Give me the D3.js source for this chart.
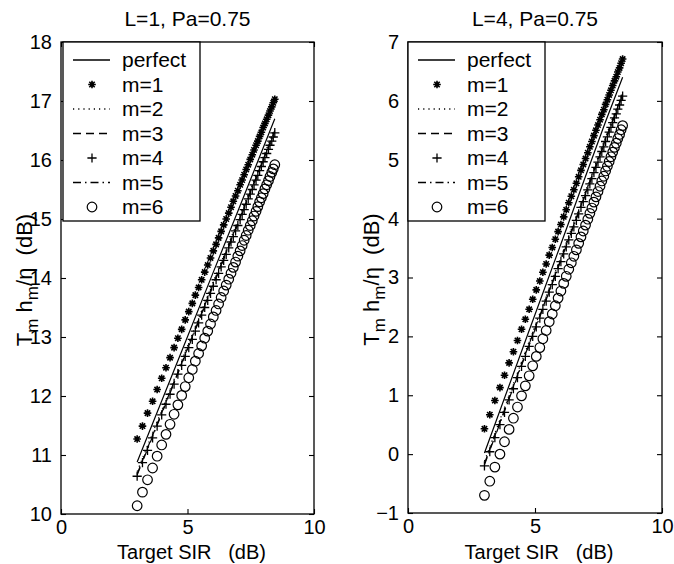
<!DOCTYPE html>
<html>
<head>
<meta charset="utf-8">
<script src="https://cdn.jsdelivr.net/npm/d3@7/dist/d3.min.js"></script>
<style>
  body { margin: 0; background: #fff; }
  svg text { font-family: "Liberation Sans", Arial, Helvetica, sans-serif; fill: #000; white-space: pre; }
</style>
</head>
<body>
<div id="chart"></div>
<script>
// Target SIR (dB) at each marker
const sirDb = [3.01, 3.22, 3.42, 3.62, 3.80, 3.98, 4.15, 4.31, 4.47, 4.62,
  4.77, 4.91, 5.05, 5.19, 5.31, 5.44, 5.56, 5.68, 5.80, 5.91,
  6.02, 6.13, 6.23, 6.33, 6.43, 6.53, 6.63, 6.72, 6.81, 6.90,
  6.99, 7.08, 7.16, 7.24, 7.32, 7.40, 7.48, 7.56, 7.63, 7.71,
  7.78, 7.85, 7.92, 7.99, 8.06, 8.13, 8.20, 8.26, 8.33, 8.39, 8.45];
// Target SIR for the plain line series
const lineSirDb = [3.01, 4.77, 6.02, 6.99, 7.78, 8.45];

// Left panel: L=1, Pa=0.75
const l1Perfect = [10.88, 12.76, 14.10, 15.13, 15.98, 16.70];
const l1M2 = [10.72, 12.60, 13.94, 14.97, 15.82, 16.54];
const l1M3 = [10.68, 12.56, 13.90, 14.93, 15.78, 16.50];
const l1M5 = [10.66, 12.54, 13.88, 14.91, 15.76, 16.48];
const l1M1 = [11.27, 11.49, 11.71, 11.91, 12.11, 12.30, 12.48, 12.65, 12.82, 12.98,
  13.13, 13.29, 13.43, 13.57, 13.71, 13.84, 13.97, 14.10, 14.22, 14.34,
  14.46, 14.57, 14.68, 14.79, 14.90, 15.00, 15.10, 15.20, 15.30, 15.39,
  15.48, 15.58, 15.66, 15.75, 15.84, 15.92, 16.01, 16.09, 16.17, 16.25,
  16.32, 16.40, 16.47, 16.55, 16.62, 16.69, 16.76, 16.83, 16.90, 16.97, 17.03];
const l1M4 = [10.64, 10.87, 11.08, 11.29, 11.49, 11.68, 11.86, 12.03, 12.20, 12.37,
  12.52, 12.67, 12.82, 12.96, 13.10, 13.24, 13.37, 13.50, 13.62, 13.74,
  13.86, 13.97, 14.08, 14.19, 14.30, 14.40, 14.51, 14.61, 14.70, 14.80,
  14.89, 14.99, 15.08, 15.16, 15.25, 15.34, 15.42, 15.50, 15.58, 15.66,
  15.74, 15.82, 15.89, 15.97, 16.04, 16.11, 16.18, 16.25, 16.32, 16.39, 16.46];
const l1M6 = [10.14, 10.37, 10.58, 10.78, 10.98, 11.17, 11.35, 11.52, 11.69, 11.85,
  12.01, 12.16, 12.31, 12.45, 12.59, 12.72, 12.85, 12.98, 13.10, 13.22,
  13.34, 13.45, 13.56, 13.67, 13.78, 13.88, 13.98, 14.08, 14.18, 14.27,
  14.37, 14.46, 14.55, 14.64, 14.72, 14.81, 14.89, 14.97, 15.05, 15.13,
  15.21, 15.29, 15.36, 15.43, 15.51, 15.58, 15.65, 15.72, 15.79, 15.85, 15.92];

// Right panel: L=4, Pa=0.75
const l4Perfect = [0.02, 2.10, 3.57, 4.72, 5.65, 6.40];
const l4M2 = [-0.12, 1.91, 3.35, 4.47, 5.39, 6.16];
const l4M3 = [-0.16, 1.87, 3.31, 4.43, 5.35, 6.12];
const l4M5 = [-0.18, 1.85, 3.29, 4.41, 5.33, 6.10];
const l4M1 = [0.43, 0.67, 0.91, 1.13, 1.34, 1.55, 1.74, 1.93, 2.12, 2.29,
  2.46, 2.63, 2.79, 2.94, 3.09, 3.23, 3.38, 3.51, 3.65, 3.78,
  3.90, 4.03, 4.15, 4.27, 4.38, 4.49, 4.60, 4.71, 4.82, 4.92,
  5.02, 5.12, 5.22, 5.31, 5.41, 5.50, 5.59, 5.68, 5.77, 5.85,
  5.94, 6.02, 6.10, 6.18, 6.26, 6.34, 6.41, 6.49, 6.56, 6.64, 6.71];
const l4M4 = [-0.20, 0.04, 0.28, 0.50, 0.71, 0.92, 1.11, 1.30, 1.49, 1.66,
  1.83, 2.00, 2.16, 2.31, 2.46, 2.60, 2.75, 2.88, 3.02, 3.15,
  3.27, 3.40, 3.52, 3.64, 3.75, 3.86, 3.97, 4.08, 4.19, 4.29,
  4.39, 4.49, 4.59, 4.68, 4.78, 4.87, 4.96, 5.05, 5.14, 5.22,
  5.31, 5.39, 5.47, 5.55, 5.63, 5.71, 5.78, 5.86, 5.93, 6.01, 6.08];
const l4M6 = [-0.70, -0.46, -0.22, 0.00, 0.21, 0.42, 0.61, 0.80, 0.99, 1.16,
  1.33, 1.50, 1.66, 1.81, 1.96, 2.10, 2.25, 2.38, 2.52, 2.65,
  2.77, 2.90, 3.02, 3.14, 3.25, 3.36, 3.47, 3.58, 3.69, 3.79,
  3.89, 3.99, 4.09, 4.18, 4.28, 4.37, 4.46, 4.55, 4.64, 4.72,
  4.81, 4.89, 4.97, 5.05, 5.13, 5.21, 5.28, 5.36, 5.43, 5.51, 5.58];

const legendLabels = ["perfect", "m=1", "m=2", "m=3", "m=4", "m=5", "m=6"];
const xTicks = [0, 5, 10];

const W = 674, H = 564;
const svg = d3.select("#chart").append("svg")
  .attr("width", W).attr("height", H);

// how each legend entry is drawn
const styles = {
  "perfect": { dash: null },
  "m=1": { marker: "star" },
  "m=2": { dash: "1.2,4" },
  "m=3": { dash: "8,5" },
  "m=4": { marker: "plus" },
  "m=5": { dash: "8,4,1.5,4" },
  "m=6": { marker: "circle" }
};

function markerPath(kind) {
  if (kind == "star") {
    const r = 3.8, a = 2.7;
    return `M${-r},0H${r}M0,${-r}V${r}M${-a},${-a}L${a},${a}M${-a},${a}L${a},${-a}`;
  }
  if (kind == "plus") {
    const r = 4.6;
    return `M${-r},0H${r}M0,${-r}V${r}`;
  }
  return null;
}

function drawMarker(g, kind, x, y) {
  if (kind == "circle") {
    g.append("circle").attr("cx", x).attr("cy", y).attr("r", 4.8)
      .attr("fill", "none").attr("stroke", "#000").attr("stroke-width", 1.2);
  } else {
    g.append("path").attr("transform", `translate(${x},${y})`)
      .attr("d", markerPath(kind)).attr("fill", "none")
      .attr("stroke", "#000").attr("stroke-width", kind == "star" ? 1.6 : 1.3);
  }
}

function drawPanel(p) {
  const x = d3.scaleLinear().domain([0, 10]).range([p.left, p.right]);
  const y = d3.scaleLinear().domain(p.yDomain).range([p.bottom, p.top]);
  const g = svg.append("g");

  // title
  g.append("text").attr("x", (p.left + p.right) / 2).attr("y", 26)
    .attr("text-anchor", "middle").attr("font-size", 21).text(p.title);

  // data lines
  const line = d3.line().x((d, i) => x(lineSirDb[i])).y(d => y(d));
  p.lines.forEach(s => {
    g.append("path").datum(s.values).attr("d", line)
      .attr("fill", "none").attr("stroke", "#000").attr("stroke-width", 1.2)
      .attr("stroke-dasharray", styles[s.name].dash);
  });
  // data markers
  p.markers.forEach(s => {
    const mg = g.append("g");
    s.values.forEach((v, i) => drawMarker(mg, styles[s.name].marker, x(sirDb[i]), y(v)));
  });

  // axes with inward ticks on all four sides
  const yTicks = d3.range(p.yDomain[0], p.yDomain[1] + 1);
  const tk = 5;
  g.append("g").attr("transform", `translate(${p.left},0)`)
    .call(d3.axisLeft(y).tickValues(yTicks).tickSize(-tk).tickPadding(9).tickFormat(d3.format("d")))
    .call(a => a.select(".domain").remove());
  g.append("g").attr("transform", `translate(${p.right},0)`)
    .call(d3.axisRight(y).tickValues(yTicks).tickSize(-tk).tickFormat(""))
    .call(a => a.select(".domain").remove());
  g.append("g").attr("transform", `translate(0,${p.bottom})`)
    .call(d3.axisBottom(x).tickValues(xTicks).tickSize(-tk).tickPadding(6).tickFormat(d3.format("d")))
    .call(a => a.select(".domain").remove());
  g.append("g").attr("transform", `translate(0,${p.top})`)
    .call(d3.axisTop(x).tickValues(xTicks).tickSize(-tk).tickFormat(""))
    .call(a => a.select(".domain").remove());
  g.selectAll(".tick line").attr("stroke", "#000").attr("stroke-width", 1.1);
  g.selectAll(".tick text").attr("font-size", 20).attr("fill", "#000")
    .style("font-family", '"Liberation Sans", Arial, sans-serif');
  g.append("rect").attr("x", p.left).attr("y", p.top)
    .attr("width", p.right - p.left).attr("height", p.bottom - p.top)
    .attr("fill", "none").attr("stroke", "#000").attr("stroke-width", 1.3);

  // axis labels
  g.append("text").attr("x", (p.left + p.right) / 2 + 4).attr("y", 559)
    .attr("text-anchor", "middle").attr("font-size", 20).text("Target SIR   (dB)");
  const yl = g.append("text")
    .attr("transform", `translate(${p.left - 29},${(p.top + p.bottom) / 2 + 2}) rotate(-90)`)
    .attr("text-anchor", "middle").attr("font-size", 22);
  yl.append("tspan").text("T");
  yl.append("tspan").attr("dy", 6).attr("font-size", 17).text("m");
  yl.append("tspan").attr("dy", -6).text(" h");
  yl.append("tspan").attr("dy", 6).attr("font-size", 17).text("m");
  yl.append("tspan").attr("dy", -6).text("/\u03B7  (dB)");

  // legend
  const lg = g.append("g");
  const lx = p.left + p.legendOffset;
  lg.append("rect").attr("x", lx).attr("y", p.top)
    .attr("width", 137).attr("height", 179)
    .attr("fill", "#fff").attr("stroke", "#000").attr("stroke-width", 1.3);
  legendLabels.forEach((name, i) => {
    const cy = p.top + 18 + i * 24.5;
    const st = styles[name];
    if (st.marker) {
      drawMarker(lg, st.marker, lx + 29, cy);
    } else {
      lg.append("line").attr("x1", lx + 10).attr("x2", lx + 47)
        .attr("y1", cy).attr("y2", cy).attr("stroke", "#000").attr("stroke-width", 1.3)
        .attr("stroke-dasharray", st.dash);
    }
    lg.append("text").attr("x", lx + 59).attr("y", cy + 7)
      .attr("font-size", 21).text(name);
  });
}

drawPanel({
  title: "L=1, Pa=0.75", left: 61, right: 314, top: 42, bottom: 514,
  yDomain: [10, 18], legendOffset: 2,
  lines: [{ name: "perfect", values: l1Perfect }, { name: "m=2", values: l1M2 },
          { name: "m=3", values: l1M3 }, { name: "m=5", values: l1M5 }],
  markers: [{ name: "m=1", values: l1M1 }, { name: "m=4", values: l1M4 },
            { name: "m=6", values: l1M6 }]
});
drawPanel({
  title: "L=4, Pa=0.75", left: 408, right: 662, top: 42, bottom: 513,
  yDomain: [-1, 7], legendOffset: 0,
  lines: [{ name: "perfect", values: l4Perfect }, { name: "m=2", values: l4M2 },
          { name: "m=3", values: l4M3 }, { name: "m=5", values: l4M5 }],
  markers: [{ name: "m=1", values: l4M1 }, { name: "m=4", values: l4M4 },
            { name: "m=6", values: l4M6 }]
});
</script>
</body>
</html>
